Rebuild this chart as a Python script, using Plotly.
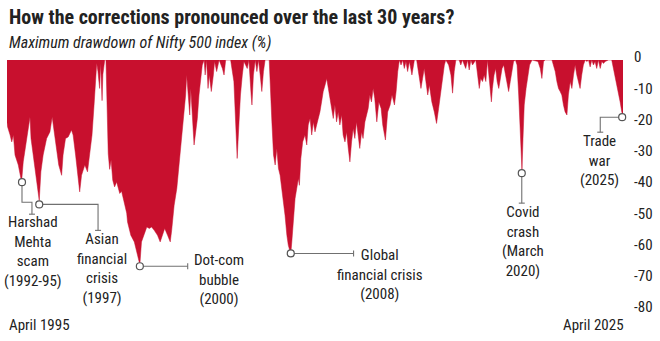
import plotly.graph_objects as go

# ---------------- data ----------------
years = [
    1995.25, 1995.28, 1995.40, 1995.48, 1995.56, 1995.64, 1995.80, 1995.93, 1995.96, 1996.04,
    1996.16, 1996.28, 1996.37, 1996.42, 1996.53, 1996.64, 1996.77, 1996.82, 1996.90, 1997.01,
    1997.18, 1997.34, 1997.45, 1997.55, 1997.66, 1997.77, 1997.91, 1997.98, 1998.10, 1998.23,
    1998.39, 1998.47, 1998.59, 1998.71, 1998.79, 1998.88, 1999.04, 1999.17, 1999.28, 1999.39,
    1999.49, 1999.56, 1999.62, 1999.68, 1999.76, 1999.81, 1999.88, 1999.92, 2000.01, 2000.07,
    2000.12, 2000.18, 2000.25, 2000.32, 2000.40, 2000.49, 2000.59, 2000.74, 2000.83, 2000.98,
    2001.08, 2001.12, 2001.28, 2001.45, 2001.61, 2001.69, 2001.72, 2001.80, 2001.93, 2002.06,
    2002.18, 2002.29, 2002.42, 2002.58, 2002.71, 2002.82, 2002.93, 2003.07, 2003.20, 2003.27,
    2003.39, 2003.52, 2003.63, 2003.71, 2003.84, 2003.95, 2004.00, 2004.07, 2004.15, 2004.20,
    2004.28, 2004.36, 2004.44, 2004.52, 2004.60, 2004.68, 2004.76, 2004.85, 2004.90, 2004.97,
    2005.04, 2005.10, 2005.20, 2005.30, 2005.36, 2005.46, 2005.58, 2005.74, 2005.82, 2005.90,
    2006.14, 2006.30, 2006.38, 2006.46, 2006.55, 2006.62, 2006.71, 2006.79, 2006.95, 2007.03,
    2007.14, 2007.18, 2007.25, 2007.34, 2007.42, 2007.50, 2007.58, 2007.66, 2007.74, 2007.82,
    2008.02, 2008.07, 2008.15, 2008.23, 2008.31, 2008.39, 2008.47, 2008.55, 2008.63, 2008.71,
    2008.79, 2008.88, 2008.95, 2009.04, 2009.07, 2009.12, 2009.20, 2009.28, 2009.36, 2009.44,
    2009.49, 2009.56, 2009.65, 2009.76, 2009.85, 2009.92, 2010.01, 2010.09, 2010.17, 2010.25,
    2010.33, 2010.41, 2010.49, 2010.57, 2010.65, 2010.74, 2010.82, 2010.90, 2010.98, 2011.06,
    2011.14, 2011.22, 2011.30, 2011.38, 2011.46, 2011.55, 2011.62, 2011.71, 2011.79, 2011.87,
    2011.95, 2012.03, 2012.11, 2012.19, 2012.27, 2012.35, 2012.43, 2012.52, 2012.59, 2012.68,
    2012.76, 2012.84, 2012.92, 2013.00, 2013.08, 2013.16, 2013.26, 2013.36, 2013.47, 2013.55,
    2013.68, 2013.79, 2013.91, 2014.00, 2014.12, 2014.20, 2014.28, 2014.36, 2014.44, 2014.52,
    2014.60, 2014.68, 2014.76, 2014.85, 2014.97, 2015.09, 2015.20, 2015.30, 2015.41, 2015.49,
    2015.57, 2015.65, 2015.74, 2015.82, 2015.94, 2016.06, 2016.17, 2016.27, 2016.38, 2016.46,
    2016.55, 2016.62, 2016.76, 2016.87, 2016.95, 2017.03, 2017.11, 2017.27, 2017.35, 2017.43,
    2017.59, 2017.68, 2017.76, 2017.84, 2017.92, 2018.08, 2018.16, 2018.25, 2018.32, 2018.41,
    2018.49, 2018.57, 2018.65, 2018.73, 2018.84, 2018.89, 2018.97, 2019.05, 2019.12, 2019.20,
    2019.28, 2019.36, 2019.44, 2019.52, 2019.60, 2019.68, 2019.76, 2019.85, 2019.92, 2020.01,
    2020.09, 2020.17, 2020.25, 2020.29, 2020.33, 2020.38, 2020.44, 2020.53, 2020.62, 2020.70,
    2020.82, 2021.11, 2021.22, 2021.30, 2021.38, 2021.46, 2021.79, 2021.87, 2021.95, 2022.03,
    2022.11, 2022.19, 2022.27, 2022.35, 2022.43, 2022.52, 2022.59, 2022.68, 2022.76, 2022.84,
    2022.92, 2023.00, 2023.08, 2023.16, 2023.24, 2023.32, 2023.41, 2023.49, 2023.57, 2023.65,
    2023.73, 2023.81, 2023.89, 2023.97, 2024.05, 2024.14, 2024.22, 2024.30, 2024.38, 2024.54,
    2024.70, 2024.79, 2024.87, 2024.95, 2025.03, 2025.11, 2025.19, 2025.25,
]

drawdown = [
    -20.0, -21.4, -24.0, -26.2, -24.0, -30.4, -33.6, -37.9, -39.0, -32.6,
    -27.2, -23.0, -18.2, -25.1, -30.4, -35.8, -43.3, -45.0, -35.8, -30.4,
    -25.1, -23.0, -18.2, -23.0, -27.2, -33.6, -36.9, -30.4, -25.1, -24.6,
    -22.4, -24.0, -30.4, -37.9, -42.2, -36.9, -33.6, -35.8, -30.4, -24.0,
    -14.4, -4.8, -1.0, -3.7, -9.1, -1.0, -13.0, -4.6, 0.0, 0.0,
    -20.0, -30.0, -35.0, -32.0, -38.5, -40.6, -39.0, -42.7, -42.0, -46.0,
    -49.0, -51.8, -56.1, -58.2, -62.5, -64.6, -65.5, -58.2, -56.1, -53.4,
    -53.9, -53.4, -54.5, -56.1, -58.2, -56.1, -53.9, -56.1, -58.2, -54.5,
    -46.5, -41.1, -33.6, -27.2, -18.7, -11.2, -4.8, -12.3, -17.6, -9.1,
    -19.8, -27.2, -23.0, -18.7, -11.2, -6.9, -1.6, 0.0, -4.8, 0.0,
    -9.1, -4.8, -10.1, -4.8, -0.5, -3.7, 0.0, -2.7, -4.8, 0.0,
    0.0, -6.9, -17.6, -31.5, -19.8, -11.2, -4.8, -0.5, -2.7, 0.0,
    -11.2, -14.4, -4.8, 0.0, -3.7, 0.0, -4.8, -10.1, -3.7, 0.0,
    0.0, -9.1, -19.8, -30.4, -33.6, -28.3, -34.7, -36.9, -41.1, -45.4,
    -49.7, -56.1, -59.3, -61.4, -62.0, -58.2, -51.8, -44.3, -41.1, -37.9,
    -40.1, -31.5, -26.2, -24.0, -27.2, -20.8, -18.7, -24.0, -19.8, -23.0,
    -20.8, -18.7, -16.6, -13.4, -10.1, -8.0, -5.9, -9.1, -12.3, -15.5,
    -18.7, -14.4, -19.8, -16.6, -20.8, -17.6, -24.0, -26.2, -23.0, -28.3,
    -32.6, -26.2, -21.9, -25.1, -19.8, -24.0, -28.3, -23.0, -25.1, -19.8,
    -17.6, -15.5, -11.2, -13.4, -9.1, -12.3, -19.8, -13.4, -15.5, -20.8,
    -25.6, -16.6, -14.4, -11.2, -14.4, -10.1, -3.7, 0.0, -1.6, 0.0,
    -2.7, -0.5, -3.7, -0.5, -4.8, 0.0, 0.0, -3.7, -9.1, -5.9,
    -2.7, -6.9, -11.2, -8.0, -13.4, -16.6, -20.3, -15.5, -10.1, -4.8,
    -1.6, 0.0, -1.6, -4.8, -10.6, -3.7, 0.0, 0.0, -1.6, 0.0,
    -2.7, 0.0, -3.2, 0.0, -1.6, 0.0, -4.8, -9.1, -5.9, -6.9,
    -4.8, -6.9, 0.0, -6.9, -13.4, -9.1, -4.8, -2.7, -6.9, -9.1,
    -5.9, -2.7, -1.6, -4.8, -8.0, -10.1, -6.9, -2.7, -0.5, 0.0,
    -1.6, -11.2, -25.1, -33.6, -35.5, -25.1, -14.4, -9.1, -4.8, -1.6,
    0.0, -0.5, -2.7, -5.9, -0.5, 0.0, 0.0, -1.6, -3.7, -6.9,
    -9.1, -10.1, -11.2, -14.4, -16.6, -17.6, -11.2, -6.9, -9.1, -4.8,
    -1.6, -4.8, -6.9, -9.1, -4.8, -1.6, 0.0, -0.5, 0.0, -2.2,
    0.0, -1.6, -0.5, -2.7, 0.0, -2.7, -0.5, -1.1, -0.5, 0.0,
    0.0, -2.7, -5.9, -8.0, -10.1, -13.4, -16.6, -17.8,
]

event_labels = [
    "Harshad<br>Mehta<br>scam<br>(1992-95)",
    "Asian<br>financial<br>crisis<br>(1997)",
    "Dot-com<br>bubble<br>(2000)",
    "Global<br>financial crisis<br>(2008)",
    "Covid<br>crash<br>(March<br>2020)",
    "Trade<br>war<br>(2025)",
]
event_years = [1995.98, 1996.82, 2001.72, 2009.07, 2020.32, 2025.21]
event_values = [-39.1, -46.2, -66.0, -61.9, -36.2, -18.3]

y_tick_values = [0, -10, -20, -30, -40, -50, -60, -70, -80]
start_label = "April 1995"
end_label = "April 2025"
title_text = "How the corrections pronounced over the last 30 years?"
subtitle_text = "Maximum drawdown of Nifty 500 index (%)"

# ---------------- layout geometry ----------------
W, H = 660, 341
M = dict(l=7, r=35, t=60, b=31)
X_RANGE = [1995.25, 2025.25]
Y_RANGE = [-80, 0]
PW = W - M["l"] - M["r"]
PH = H - M["t"] - M["b"]

FONT = "Liberation Sans Narrow, Roboto Condensed, Arial Narrow, Roboto, sans-serif"
TEXT = "#222222"
RED = "#C8102E"
LEAD = "#707070"


def ox(px):
    return px / PW * (X_RANGE[1] - X_RANGE[0])


def oy(py):
    return -py / PH * (Y_RANGE[1] - Y_RANGE[0])


def paper_y(py):
    return (H - M["b"] - py) / PH


def paper_x(px):
    return (px - M["l"]) / PW


# call-out geometry in pixel offsets from each event point (down = positive)
callouts = [
    dict(route=[(0, 0), (0, 20), (10, 20), (10, 32)], cap="h", label=(11, 69)),
    dict(route=[(0, 0), (59, 0), (59, 26)], cap="h", label=(63, 64)),
    dict(route=[(0, 0), (48, 0)], cap="v", label=(79, 13)),
    dict(route=[(0, 0), (63, 0)], cap="v", label=(90, 21)),
    dict(route=[(0, 0), (0, 30)], cap="h", label=(1, 68)),
    dict(route=[(0, 0), (-22, 0), (-22, 15)], cap="h", label=(-23, 43)),
]

fig = go.Figure()

fig.add_trace(go.Scatter(
    x=years, y=drawdown, mode="lines", fill="tozeroy",
    fillcolor=RED, line=dict(color=RED, width=0.5), hoverinfo="skip",
    showlegend=False,
))

lx, ly = [], []
annotations = []
for ex, ev, lab, c in zip(event_years, event_values, event_labels, callouts):
    for dxp, dyp in c["route"]:
        lx.append(ex + ox(dxp))
        ly.append(ev + oy(dyp))
    lx.append(None)
    ly.append(None)
    endx, endy = c["route"][-1]
    if c["cap"] == "h":
        lx += [ex + ox(endx - 3), ex + ox(endx + 3), None]
        ly += [ev + oy(endy), ev + oy(endy), None]
    else:
        lx += [ex + ox(endx), ex + ox(endx), None]
        ly += [ev + oy(endy - 3), ev + oy(endy + 3), None]
    annotations.append(dict(
        x=ex + ox(c["label"][0]), y=ev + oy(c["label"][1]), xref="x", yref="y",
        text=lab, showarrow=False, xanchor="center", yanchor="middle", align="center",
        font=dict(family=FONT, size=15, color=TEXT),
    ))

fig.add_trace(go.Scatter(
    x=lx, y=ly, mode="lines", line=dict(color=LEAD, width=1.1),
    hoverinfo="skip", showlegend=False, cliponaxis=False,
))
fig.add_trace(go.Scatter(
    x=event_years, y=event_values, mode="markers",
    marker=dict(size=7, color="white", line=dict(color="#555555", width=1.2)),
    hoverinfo="skip", showlegend=False, cliponaxis=False,
))

annotations += [
    dict(x=paper_x(7), y=paper_y(17), xref="paper", yref="paper", text=title_text,
         showarrow=False, xanchor="left", yanchor="middle",
         font=dict(family=FONT, size=20, color=TEXT, weight="bold")),
    dict(x=paper_x(7), y=paper_y(43), xref="paper", yref="paper",
         text="<i>" + subtitle_text + "</i>",
         showarrow=False, xanchor="left", yanchor="middle",
         font=dict(family=FONT, size=16, color=TEXT)),
    dict(x=paper_x(7), y=paper_y(325), xref="paper", yref="paper", text=start_label,
         showarrow=False, xanchor="left", yanchor="middle",
         font=dict(family=FONT, size=15, color=TEXT)),
    dict(x=paper_x(628), y=paper_y(325), xref="paper", yref="paper", text=end_label,
         showarrow=False, xanchor="right", yanchor="middle",
         font=dict(family=FONT, size=15, color=TEXT)),
]

fig.update_layout(
    width=W, height=H, margin=M,
    paper_bgcolor="white", plot_bgcolor="white",
    showlegend=False,
    annotations=annotations,
    xaxis=dict(range=X_RANGE, visible=False, fixedrange=True),
    yaxis=dict(
        range=Y_RANGE, side="right", tickvals=y_tick_values,
        ticktext=[str(v) for v in y_tick_values],
        showgrid=False, zeroline=False, showline=False, ticks="",
        ticklabelstandoff=10, ticklabelshift=-3,
        tickfont=dict(family=FONT, size=15, color=TEXT), fixedrange=True,
    ),
)

fig.write_html("out.html")
